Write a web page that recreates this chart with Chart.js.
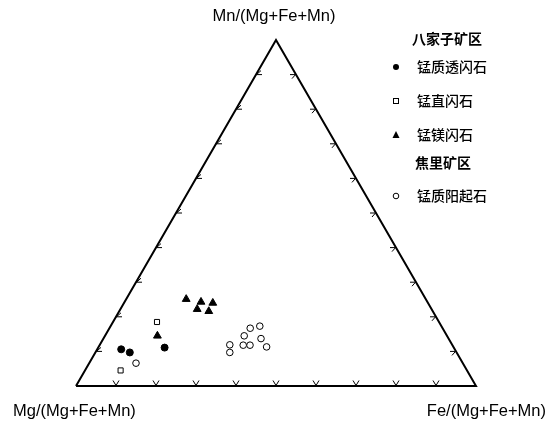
<!DOCTYPE html>
<html>
<head>
<meta charset="utf-8">
<script src="https://cdn.jsdelivr.net/npm/chart.js@4"></script>
<style>
  html, body { margin: 0; padding: 0; background: #fff; }
  #wrap { width: 555px; height: 427px; }
</style>
</head>
<body>
<div id="wrap"><canvas id="ternary" width="555" height="427"></canvas></div>
<script>
// ternary values: [Mg, Fe, Mn] fractions
const tremolite = [[0.834, 0.060, 0.106], [0.817, 0.086, 0.097], [0.723, 0.166, 0.111]];
const kupfferite = [[0.705, 0.110, 0.185], [0.866, 0.089, 0.045]];
const magnesioHornblende = [
  [0.599, 0.150, 0.251], [0.566, 0.191, 0.243], [0.538, 0.222, 0.240],
  [0.586, 0.192, 0.222], [0.560, 0.224, 0.216], [0.724, 0.131, 0.145]
];
const actinolite = [
  [0.817, 0.117, 0.066], [0.481, 0.352, 0.167], [0.454, 0.373, 0.173],
  [0.507, 0.348, 0.145], [0.469, 0.394, 0.137], [0.556, 0.325, 0.119],
  [0.523, 0.359, 0.118], [0.506, 0.376, 0.118], [0.467, 0.420, 0.113],
  [0.567, 0.336, 0.097]
];
const corners = [[1, 0, 0], [0, 1, 0], [0, 0, 1], [1, 0, 0]];
const tickFractions = [0.1, 0.2, 0.3, 0.4, 0.5, 0.6, 0.7, 0.8, 0.9];
const seriesNames = ["锰质透闪石", "锰直闪石", "锰镁闪石", "锰质阳起石"];
const groupNames = ["八家子矿区", "焦里矿区"];
const axisTitles = ["Mg/(Mg+Fe+Mn)", "Fe/(Mg+Fe+Mn)", "Mn/(Mg+Fe+Mn)"];

const H = Math.sqrt(3) / 2;
function toXY(t) {
  const s = t[0] + t[1] + t[2];
  const fe = t[1] / s, mn = t[2] / s;
  return { x: fe + mn / 2, y: mn * H };
}

const cjk = '"Noto Sans CJK SC", sans-serif';
const latin = '"Liberation Sans", Arial, sans-serif';

const decorPlugin = {
  id: 'decor',
  afterDatasetsDraw(chart) {
    const ctx = chart.ctx;
    const xs = chart.scales.x, ys = chart.scales.y;
    const px = (t) => { const p = toXY(t); return [xs.getPixelForValue(p.x), ys.getPixelForValue(p.y)]; };
    ctx.save();
    ctx.strokeStyle = '#000';
    ctx.lineWidth = 1;
    tickFractions.forEach((f) => {
      // bottom edge: V marks
      let [x, y] = px([1 - f, f, 0]);
      ctx.beginPath();
      ctx.moveTo(x - 3, y - 5.5); ctx.lineTo(x, y - 0.5); ctx.lineTo(x + 3, y - 5.5);
      ctx.stroke();
      // left edge
      [x, y] = px([1 - f, 0, f]);
      ctx.beginPath();
      ctx.moveTo(x + 5, y - 4); ctx.lineTo(x + 0.5, y); ctx.lineTo(x + 6, y);
      ctx.stroke();
      // right edge
      [x, y] = px([0, 1 - f, f]);
      ctx.beginPath();
      ctx.moveTo(x - 6, y); ctx.lineTo(x - 0.5, y); ctx.lineTo(x - 4, y + 4);
      ctx.stroke();
    });

    // axis titles
    ctx.fillStyle = '#000';
    ctx.font = '16.5px ' + latin;
    ctx.textBaseline = 'middle';
    ctx.textAlign = 'left';
    ctx.fillText(axisTitles[0], 13, 411);
    ctx.textAlign = 'right';
    ctx.fillText(axisTitles[1], 546, 411);
    ctx.textAlign = 'center';
    ctx.fillText(axisTitles[2], 274, 16);

    // legend
    const mx = 396;
    ctx.textAlign = 'left';
    ctx.font = 'bold 14px ' + cjk;
    ctx.fillText(groupNames[0], 412, 39);
    ctx.fillText(groupNames[1], 415, 163);
    ctx.font = '500 14px ' + cjk;
    const rows = [67, 101, 135, 196];
    rows.forEach((ry, i) => ctx.fillText(seriesNames[i], 417, ry));
    ctx.lineWidth = 1;
    ctx.strokeStyle = '#000';
    ctx.beginPath(); ctx.arc(mx, 67, 3, 0, Math.PI * 2); ctx.fill();
    ctx.strokeRect(mx - 2.5, 98.5, 5, 5);
    ctx.beginPath(); ctx.moveTo(mx, 131); ctx.lineTo(mx + 3.5, 138); ctx.lineTo(mx - 3.5, 138); ctx.closePath(); ctx.fill();
    ctx.beginPath(); ctx.arc(mx, 196, 2.8, 0, Math.PI * 2); ctx.stroke();
    ctx.restore();
  }
};

new Chart(document.getElementById('ternary'), {
  type: 'scatter',
  data: {
    datasets: [
      {
        label: 'frame', type: 'line', data: corners.map(toXY),
        borderColor: '#000', borderWidth: 2, pointRadius: 0, fill: false, clip: false, tension: 0
      },
      {
        label: seriesNames[0], data: tremolite.map(toXY), pointStyle: 'circle',
        pointRadius: 3.5, backgroundColor: '#000', borderColor: '#000', borderWidth: 1
      },
      {
        label: seriesNames[1], data: kupfferite.map(toXY), pointStyle: 'rect',
        pointRadius: 3.6, backgroundColor: '#fff', borderColor: '#000', borderWidth: 1
      },
      {
        label: seriesNames[2], data: magnesioHornblende.map(toXY), pointStyle: 'triangle',
        pointRadius: 4.5, backgroundColor: '#000', borderColor: '#000', borderWidth: 1
      },
      {
        label: seriesNames[3], data: actinolite.map(toXY), pointStyle: 'circle',
        pointRadius: 3.3, backgroundColor: '#fff', borderColor: '#000', borderWidth: 1
      }
    ]
  },
  options: {
    responsive: false,
    animation: false,
    layout: { padding: { left: 76, right: 79, top: 40, bottom: 41 } },
    plugins: { legend: { display: false }, tooltip: { enabled: false } },
    scales: {
      x: { type: 'linear', min: 0, max: 1, display: false },
      y: { type: 'linear', min: 0, max: H, display: false }
    }
  },
  plugins: [decorPlugin]
});
</script>
</body>
</html>
